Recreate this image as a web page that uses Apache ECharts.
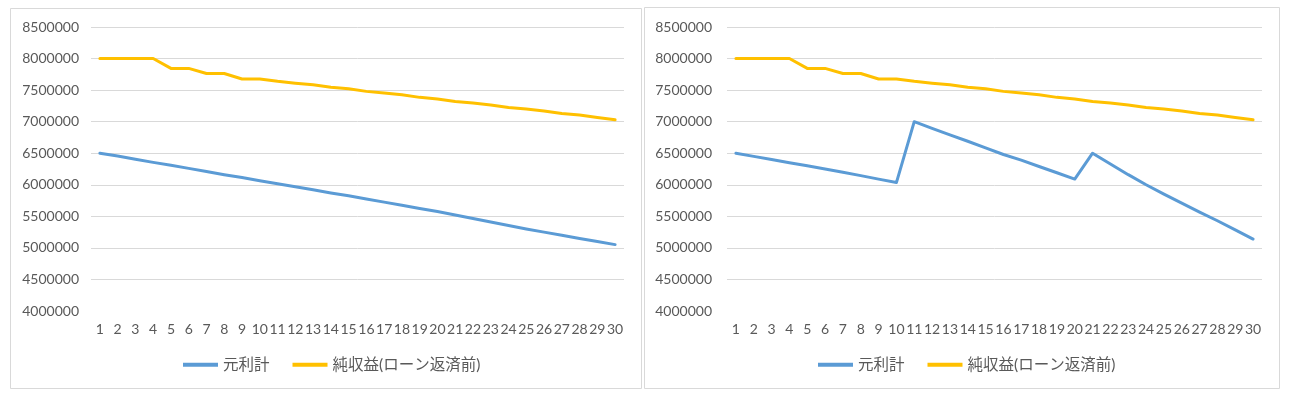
<!DOCTYPE html>
<html>
<head>
<meta charset="utf-8">
<script src="https://cdn.jsdelivr.net/npm/echarts@6/dist/echarts.min.js"></script>
<style>
html,body{margin:0;padding:0;background:#fff;}
#c{width:1297px;height:393px;}
</style>
</head>
<body>
<div id="c"></div>
<script>
const categories = ['1','2','3','4','5','6','7','8','9','10','11','12','13','14','15','16','17','18','19','20','21','22','23','24','25','26','27','28','29','30'];
const seriesNames = ['元利計', '純収益(ローン返済前)'];
// Left chart
const leftTotal = [6500000,6455000,6405000,6355000,6310000,6260000,6210000,6160000,6115000,6065000,6015000,5970000,5920000,5870000,5825000,5775000,5725000,5675000,5625000,5575000,5520000,5465000,5410000,5355000,5300000,5250000,5200000,5150000,5100000,5052000];
const leftNet = [8000000,8000000,8000000,8000000,7844000,7844000,7763000,7763000,7677000,7677000,7640000,7610000,7585000,7545000,7520000,7480000,7455000,7425000,7385000,7360000,7320000,7295000,7265000,7225000,7200000,7170000,7130000,7105000,7065000,7030000];
// Right chart
const rightTotal = [6500000,6450000,6400000,6350000,6300000,6250000,6198000,6145000,6090000,6035000,7000000,6895000,6790000,6690000,6585000,6480000,6390000,6290000,6190000,6090000,6500000,6330000,6160000,6000000,5852000,5710000,5567000,5430000,5285000,5140000];
const rightNet = [8000000,8000000,8000000,8000000,7844000,7844000,7763000,7763000,7677000,7677000,7640000,7610000,7585000,7545000,7520000,7480000,7455000,7425000,7385000,7360000,7320000,7295000,7265000,7225000,7200000,7170000,7130000,7105000,7065000,7030000];
const yMin = 4000000, yMax = 8500000, yStep = 500000;

const FONT = 'Lato, "Noto Sans CJK JP", sans-serif';
const BLUE = '#5B9BD5', YELLOW = '#FFC000';
const chart = echarts.init(document.getElementById('c'), null, {renderer: 'canvas'});

function xAxis(gi){
  return {type:'category', gridIndex:gi, data:categories, boundaryGap:true,
    axisLine:{show:false}, axisTick:{show:false},
    axisLabel:{interval:0, color:'#595959', fontSize:14, fontFamily:FONT, margin:11}};
}
function yAxis(gi, margin){
  return {type:'value', gridIndex:gi, min:yMin, max:yMax, interval:yStep,
    axisLine:{show:false}, axisTick:{show:false},
    axisLabel:{color:'#595959', fontSize:14, fontFamily:FONT, margin:margin,
      formatter:function(v){ return String(v); }},
    splitLine:{show:true, showMinLine:false, lineStyle:{color:'#d9d9d9', width:1}}};
}
function line(name, data, color, gi){
  return {type:'line', name:name, data:data, xAxisIndex:gi, yAxisIndex:gi,
    showSymbol:false, symbol:'none', smooth:false, color:color,
    lineStyle:{color:color, width:3, join:'round', cap:'round'}, animation:false};
}
function legend(left){
  return {data:seriesNames, top:352, left:left, icon:'rect', itemWidth:35, itemHeight:4,
    itemGap:23, textStyle:{color:'#595959', fontSize:15.5, fontFamily:FONT}};
}

chart.setOption({
  animation:false,
  backgroundColor:'#fff',
  graphic:[
    {type:'rect', shape:{x:10.5, y:8.5, width:631, height:380}, style:{fill:'none', stroke:'#d9d9d9', lineWidth:1}},
    {type:'rect', shape:{x:644.5, y:7.5, width:635, height:381}, style:{fill:'none', stroke:'#d9d9d9', lineWidth:1}}
  ],
  grid:[
    {left:91, right:673, top:27, bottom:82},
    {left:727, right:35, top:27, bottom:82}
  ],
  xAxis:[xAxis(0), xAxis(1)],
  yAxis:[yAxis(0, 12), yAxis(1, 15)],
  legend:[legend(178), legend(813)],
  series:[
    line(seriesNames[0], leftTotal, BLUE, 0),
    line(seriesNames[1], leftNet, YELLOW, 0),
    line(seriesNames[0], rightTotal, BLUE, 1),
    line(seriesNames[1], rightNet, YELLOW, 1)
  ]
});
</script>
</body>
</html>
